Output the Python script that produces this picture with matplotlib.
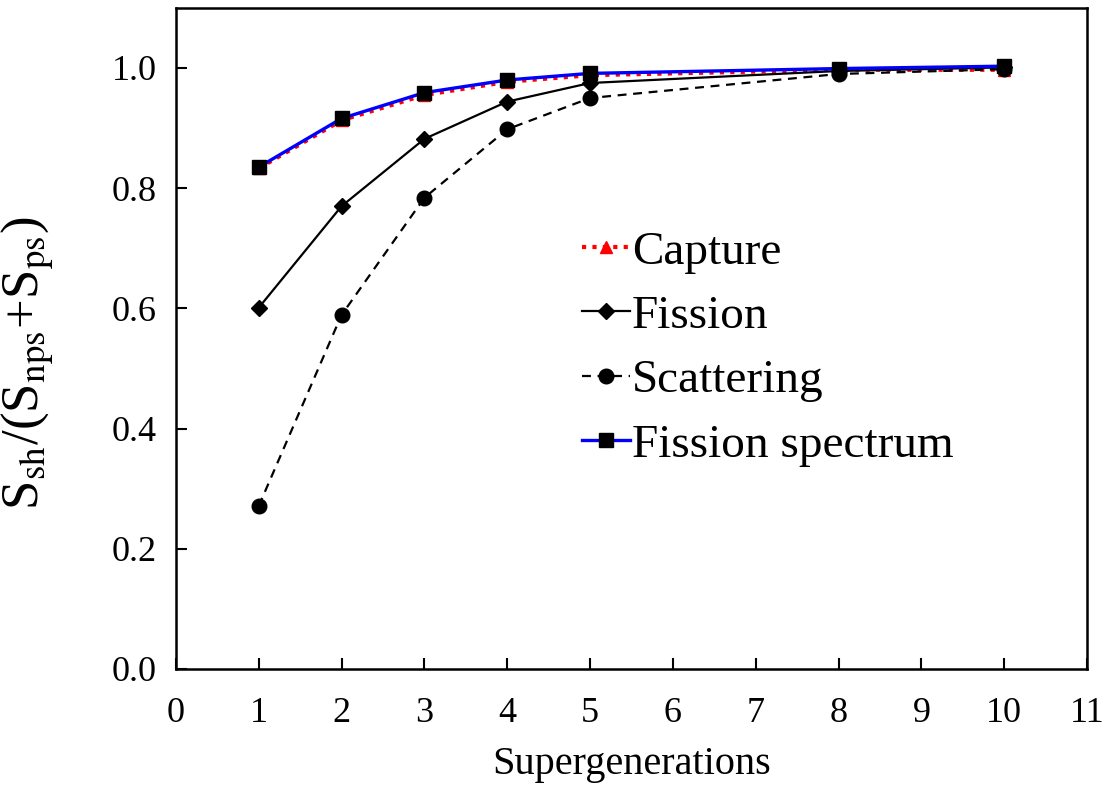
import matplotlib
matplotlib.use("Agg")
import matplotlib.pyplot as plt

plt.rcParams['font.family'] = ['Liberation Serif', 'DejaVu Serif']
plt.rcParams['mathtext.fontset'] = 'stix'

x = [1, 2, 3, 4, 5, 8, 10]
capture = [0.833, 0.913, 0.955, 0.977, 0.988, 0.997, 0.997]
fission = [0.601, 0.770, 0.882, 0.944, 0.975, 0.995, 1.001]
scattering = [0.271, 0.589, 0.784, 0.898, 0.950, 0.990, 0.998]
fission_spectrum = [0.835, 0.916, 0.959, 0.980, 0.991, 0.999, 1.003]

xticks = list(range(0, 12))
yticks = [0.0, 0.2, 0.4, 0.6, 0.8, 1.0]

fig = plt.figure(figsize=(11.06, 7.87), dpi=100)
ax = fig.add_axes([0.159, 0.150, 0.824, 0.840])

ax.plot(x, capture, color='red', linestyle=(0, (1, 1.5)), linewidth=3,
        marker='^', markersize=8, markerfacecolor='red', markeredgecolor='red',
        label='Capture', zorder=3)
ax.plot(x, fission, color='black', linestyle='-', linewidth=1.6,
        marker='D', markersize=8, markerfacecolor='black', markeredgecolor='black',
        label='Fission', zorder=3)
ax.plot(x, scattering, color='black', linestyle=(0, (4, 3)), linewidth=1.6,
        marker='o', markersize=10.5, markerfacecolor='black', markeredgecolor='black',
        label='Scattering', zorder=3)
ax.plot(x, fission_spectrum, color='blue', linestyle='-', linewidth=2.4,
        marker='s', markersize=10, markerfacecolor='black', markeredgecolor='black',
        label='Fission spectrum', zorder=4)

ax.set_xlim(0, 11)
ax.set_ylim(0, 1.1)
ax.set_xticks(xticks)
ax.set_xticklabels([str(v) for v in xticks])
ax.set_yticks(yticks)
ax.set_yticklabels([f'{v:.1f}' for v in yticks])
ax.tick_params(direction='in', length=8, width=1.5, labelsize=26,
               top=False, right=False)
ax.tick_params(axis='x', pad=20)
ax.tick_params(axis='y', pad=14)
for s in ax.spines.values():
    s.set_linewidth(1.8)

ax.set_xlabel('Supergenerations', fontsize=29, labelpad=12)
ax.set_ylabel(r'S$_{\mathrm{sh}}$/(S$_{\mathrm{nps}}$+S$_{\mathrm{ps}}$)',
              fontsize=38)
ax.yaxis.set_label_coords(-0.133, 0.463)

leg = ax.legend(loc='upper left', bbox_to_anchor=(0.446, 0.663), frameon=False,
                fontsize=34, handlelength=1.0, handletextpad=0.05,
                labelspacing=0.45, borderaxespad=0, borderpad=0)

fig.savefig('out.png', dpi=100)
